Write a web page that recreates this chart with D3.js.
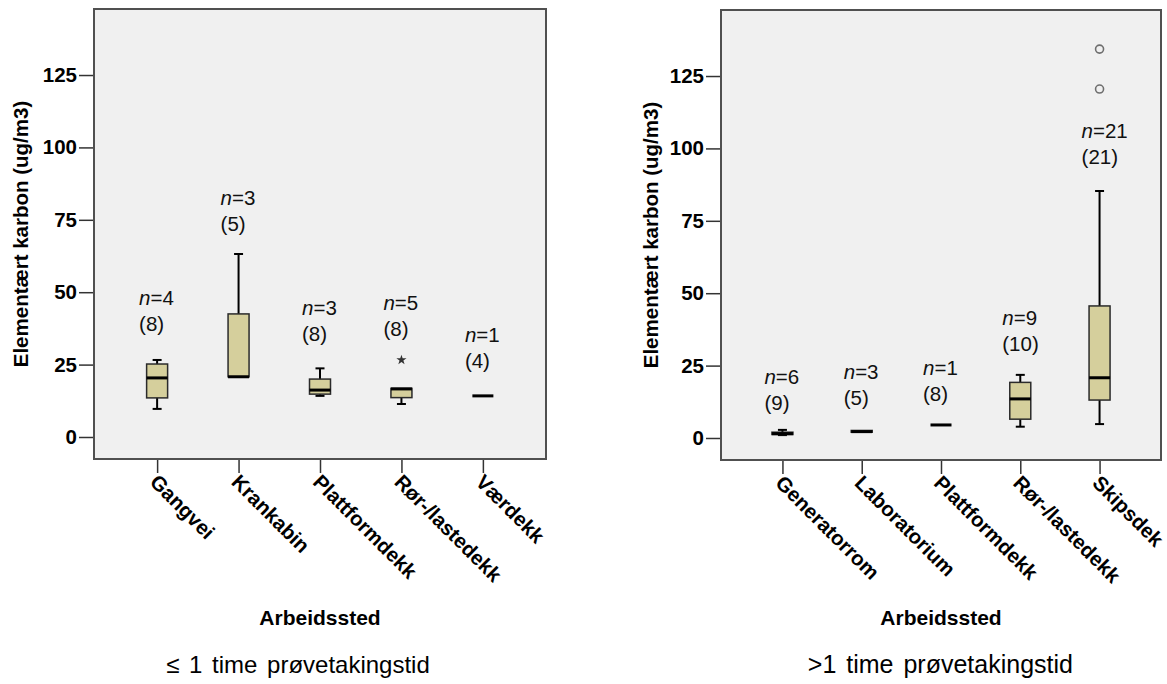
<!DOCTYPE html>
<html>
<head>
<meta charset="utf-8">
<script src="https://cdn.jsdelivr.net/npm/d3@7"></script>
<style>
  body { margin: 0; background: #fff; font-family: Arial, "Liberation Sans", sans-serif; }
  .axis text { font-family: Arial, "Liberation Sans", sans-serif; font-weight: bold; fill: #000; }
  .axis line { stroke: #333; stroke-width: 1.5; }
</style>
</head>
<body>
<div id="chart"></div>
<script>
////////////////////////////////////////////////////////////////////////
// Data

let yTicks = [0, 25, 50, 75, 100, 125];

// Panel 1: <= 1 time provetakingstid
let leftCats   = ["Gangvei", "Krankabin", "Plattformdekk", "Rør-/lastedekk", "Værdekk"];
let leftLow    = [9.7, 20.8, 14.2, 11.4, 14.2];
let leftQ1     = [13.5, 20.8, 14.8, 13.6, 14.2];
let leftMedian = [20.4, 20.8, 16.2, 16.6, 14.2];
let leftQ3     = [25.2, 42.5, 20.0, 16.8, 14.2];
let leftHigh   = [26.6, 63.2, 23.7, 16.8, 14.2];
let leftN      = [4, 3, 3, 5, 1];
let leftTotal  = [8, 5, 8, 8, 4];
let leftLabelAt = [48.0, 82.5, 44.5, 46.3, 35.2];
let leftExtremes = [{ cat: "Rør-/lastedekk", value: 26.6 }];

// Panel 2: >1 time provetakingstid
let rightCats   = ["Generatorrom", "Laboratorium", "Plattformdekk", "Rør-/lastedekk", "Skipsdek"];
let rightLow    = [1.0, 2.0, 4.5, 3.9, 4.8];
let rightQ1     = [1.2, 2.0, 4.5, 6.5, 13.1];
let rightMedian = [1.5, 2.2, 4.5, 13.5, 20.8];
let rightQ3     = [2.0, 2.6, 4.5, 19.2, 45.6];
let rightHigh   = [2.8, 2.6, 4.5, 21.8, 85.3];
let rightN      = [6, 3, 1, 9, 21];
let rightTotal  = [9, 5, 8, 10, 21];
let rightLabelAt = [21.1, 22.8, 24.2, 41.4, 106.0];
let rightOutliers = [{ cat: "Skipsdek", value: 134.3 }, { cat: "Skipsdek", value: 120.5 }];

let yTitle = "Elementært karbon (ug/m3)";
let xTitle = "Arbeidssted";

////////////////////////////////////////////////////////////////////////
// Setup

let width = 1167, height = 684;
let boxFill = "#d5cf9c";

let svg = d3.select("#chart").append("svg")
  .attr("width", width)
  .attr("height", height);

function buildRows(cats, low, q1, med, q3, high, n, total, labelAt) {
  return cats.map(function(c, i) {
    return { cat: c, low: low[i], q1: q1[i], med: med[i], q3: q3[i],
             high: high[i], n: n[i], total: total[i], labelAt: labelAt[i] };
  });
}

// draws one boxplot panel inside the frame [x0,x1] x [y0,y1]
function drawPanel(p) {
  let g = svg.append("g");

  let xScale = d3.scalePoint().domain(p.cats).range([p.x0, p.x1]).padding(0.775);
  let yScale = d3.scaleLinear().domain([-7.6, 147.8]).range([p.y1, p.y0]);

  g.append("rect")
    .attr("x", p.x0).attr("y", p.y0)
    .attr("width", p.x1 - p.x0).attr("height", p.y1 - p.y0)
    .attr("fill", "#f0f0f0")
    .attr("stroke", "#505050")
    .attr("stroke-width", 2);

  // y axis
  let yAxis = g.append("g")
    .attr("class", "axis")
    .attr("transform", "translate(" + (p.x0 - 1) + ",0)")
    .call(d3.axisLeft(yScale).tickValues(yTicks).tickSize(14).tickPadding(2));
  yAxis.select(".domain").remove();
  yAxis.selectAll("text").style("font-size", "20.5px");

  // x axis
  let xAxis = g.append("g")
    .attr("class", "axis")
    .attr("transform", "translate(0," + (p.y1 + 1) + ")")
    .call(d3.axisBottom(xScale).tickSize(13).tickFormat(""));
  xAxis.select(".domain").remove();

  g.selectAll(".xlab")
    .data(p.cats)
    .enter()
    .append("text")
    .attr("transform", function(d) {
      return "translate(" + (xScale(d) - 3) + "," + (p.y1 + 19) + ") rotate(45)";
    })
    .attr("dominant-baseline", "central")
    .style("font-size", "20.5px")
    .style("font-weight", "bold")
    .text(function(d) { return d; });

  // axis titles
  g.append("text")
    .attr("transform", "translate(" + p.yTitleX + "," + ((p.y0 + p.y1) / 2) + ") rotate(-90)")
    .attr("text-anchor", "middle")
    .attr("dominant-baseline", "central")
    .style("font-size", "20.5px")
    .style("font-weight", "bold")
    .text(yTitle);

  g.append("text")
    .attr("x", (p.x0 + p.x1) / 2)
    .attr("y", 625)
    .attr("text-anchor", "middle")
    .style("font-size", "21px")
    .style("font-weight", "bold")
    .text(xTitle);

  // panel caption
  g.append("text")
    .attr("x", p.captionX)
    .attr("y", 673)
    .attr("text-anchor", p.captionAnchor)
    .style("font-size", p.captionSize)
    .style("word-spacing", "3px")
    .text(p.caption);

  // boxes
  let boxW = 21, capW = 9;
  let groups = g.selectAll(".box")
    .data(p.rows)
    .enter()
    .append("g")
    .attr("transform", function(d) { return "translate(" + xScale(d.cat) + ",0)"; });

  let multi = groups.filter(function(d) { return d.n > 1; });

  multi.append("line")
    .attr("x1", 0).attr("x2", 0)
    .attr("y1", function(d) { return yScale(d.high); })
    .attr("y2", function(d) { return yScale(d.low); })
    .attr("stroke", "#000").attr("stroke-width", 2);

  multi.filter(function(d) { return d.high > d.q3; }).append("line")
    .attr("x1", -capW / 2).attr("x2", capW / 2)
    .attr("y1", function(d) { return yScale(d.high); })
    .attr("y2", function(d) { return yScale(d.high); })
    .attr("stroke", "#000").attr("stroke-width", 2);

  multi.filter(function(d) { return d.low < d.q1; }).append("line")
    .attr("x1", -capW / 2).attr("x2", capW / 2)
    .attr("y1", function(d) { return yScale(d.low); })
    .attr("y2", function(d) { return yScale(d.low); })
    .attr("stroke", "#000").attr("stroke-width", 2);

  multi.append("rect")
    .attr("x", -boxW / 2)
    .attr("y", function(d) { return yScale(d.q3); })
    .attr("width", boxW)
    .attr("height", function(d) { return Math.max(1, yScale(d.q1) - yScale(d.q3)); })
    .attr("fill", boxFill)
    .attr("stroke", "#2b2b2b")
    .attr("stroke-width", 1.5);

  groups.append("line")
    .attr("x1", -boxW / 2).attr("x2", boxW / 2)
    .attr("y1", function(d) { return yScale(d.med); })
    .attr("y2", function(d) { return yScale(d.med); })
    .attr("stroke", "#000").attr("stroke-width", 3);

  // n labels
  let lab = groups.append("text")
    .attr("x", -18)
    .attr("y", function(d) { return yScale(d.labelAt); })
    .style("font-size", "20.5px")
    .attr("fill", "#111");
  lab.append("tspan")
    .attr("x", -18)
    .attr("dy", "0.35em")
    .style("font-style", "italic")
    .text("n");
  lab.append("tspan")
    .text(function(d) { return "=" + d.n; });
  lab.append("tspan")
    .attr("x", -18)
    .attr("dy", 25.5)
    .text(function(d) { return "(" + d.total + ")"; });

  // outliers (circles) and extremes (stars)
  g.selectAll(".outlier")
    .data(p.outliers || [])
    .enter()
    .append("circle")
    .attr("cx", function(d) { return xScale(d.cat); })
    .attr("cy", function(d) { return yScale(d.value); })
    .attr("r", 4)
    .attr("fill", "#f0f0f0")
    .attr("stroke", "#6e6e6e")
    .attr("stroke-width", 1.6);

  g.selectAll(".extreme")
    .data(p.extremes || [])
    .enter()
    .append("path")
    .attr("transform", function(d) {
      return "translate(" + xScale(d.cat) + "," + yScale(d.value) + ")";
    })
    .attr("d", d3.symbol().type(d3.symbolStar).size(32))
    .attr("fill", "#333");
}

drawPanel({
  x0: 94, x1: 546, y0: 9, y1: 459, yTitleX: 20, captionX: 298,
  captionAnchor: "middle", captionSize: "24px",
  cats: leftCats,
  rows: buildRows(leftCats, leftLow, leftQ1, leftMedian, leftQ3, leftHigh, leftN, leftTotal, leftLabelAt),
  extremes: leftExtremes,
  caption: "≤ 1 time prøvetakingstid"
});

drawPanel({
  x0: 721, x1: 1161, y0: 10, y1: 460, yTitleX: 650, captionX: 1073,
  captionAnchor: "end", captionSize: "25px",
  cats: rightCats,
  rows: buildRows(rightCats, rightLow, rightQ1, rightMedian, rightQ3, rightHigh, rightN, rightTotal, rightLabelAt),
  outliers: rightOutliers,
  caption: ">1 time prøvetakingstid"
});
</script>
</body>
</html>
